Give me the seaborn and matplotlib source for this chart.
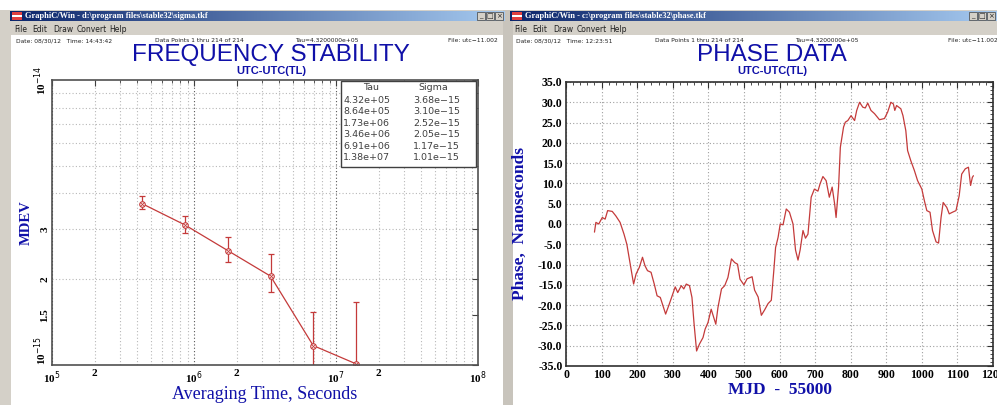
import numpy as np
import matplotlib
matplotlib.use("Agg")
import matplotlib.pyplot as plt
import seaborn as sns
import pandas as pd
from matplotlib.patches import Rectangle
from matplotlib.colors import LinearSegmentedColormap
from matplotlib.ticker import FixedLocator, NullFormatter, MultipleLocator, AutoMinorLocator, FormatStrFormatter

# ---- frequency stability (MDEV) data ----
tau = [4.32e5, 8.64e5, 1.73e6, 3.46e6, 6.91e6, 1.38e7]
sigma = [3.68e-15, 3.10e-15, 2.52e-15, 2.05e-15, 1.17e-15, 1.01e-15]
sigma_lo = [3.53e-15, 2.91e-15, 2.30e-15, 1.81e-15, 0.80e-15, 0.60e-15]
sigma_hi = [3.92e-15, 3.34e-15, 2.81e-15, 2.45e-15, 1.54e-15, 1.67e-15]
tau_txt = ["4.32e+05", "8.64e+05", "1.73e+06", "3.46e+06", "6.91e+06", "1.38e+07"]
sigma_txt = ["3.68e\u221215", "3.10e\u221215", "2.52e\u221215", "2.05e\u221215", "1.17e\u221215", "1.01e\u221215"]

# ---- phase data (MJD - 55000, ns) ----
mjd = [80, 84, 92, 102, 110, 117, 130, 140, 152, 163, 171, 178, 190, 197, 206, 215, 222, 229,
       239, 248, 256, 265, 280, 290, 300, 307, 314, 324, 331, 338, 347, 354, 360, 367, 375, 385,
       391, 399, 408, 421, 427, 437, 446, 455, 465, 474, 482, 489, 500, 509, 523, 530, 540, 549,
       558, 568, 577, 584, 589, 596, 602, 610, 619, 628, 638, 645, 652, 658, 666, 673, 680, 689,
       698, 708, 714, 722, 731, 740, 748, 755, 759, 766, 771, 780, 785, 792, 801, 811, 817, 825,
       834, 841, 848, 857, 867, 881, 895, 904, 913, 920, 924, 929, 941, 947, 955, 960, 969, 979,
       988, 1000, 1007, 1014, 1023, 1030, 1040, 1047, 1054, 1060, 1070, 1077, 1086, 1096, 1105,
       1112, 1122, 1131, 1137, 1142, 1145]
phase = [-2.0, 0.4, 0.0, 1.6, 1.2, 3.3, 3.1, 2.0, 0.4, -2.5, -5.0, -8.6, -14.8, -12.3, -10.7, -8.2,
         -10.3, -11.5, -11.9, -14.8, -17.7, -18.1, -22.2, -19.8, -17.3, -15.5, -16.9, -15.2, -16.0,
         -14.8, -15.2, -18.1, -24.7, -31.3, -29.6, -28.0, -25.9, -24.3, -21.0, -24.7, -20.6, -16.0,
         -15.2, -13.2, -8.6, -9.5, -9.9, -13.6, -15.0, -13.5, -13.0, -16.3, -18.0, -22.5, -21.2,
         -19.6, -18.8, -11.5, -5.8, -3.3, 0.0, -0.2, 3.7, 2.9, 0.0, -6.4, -8.9, -6.4, -1.6, -3.5,
         -2.5, 6.6, 8.6, 8.1, 9.9, 11.7, 10.7, 6.6, 9.1, 4.9, 1.6, 9.1, 18.9, 23.9, 25.1, 25.5,
         26.7, 25.5, 28.0, 30.0, 28.8, 28.6, 29.8, 28.0, 27.2, 25.7, 26.0, 27.6, 30.0, 29.6, 28.0,
         29.2, 28.4, 26.7, 23.0, 18.1, 15.6, 13.2, 10.7, 8.6, 5.8, 3.3, 2.9, -1.6, -4.4, -4.7, 1.6,
         5.3, 4.1, 2.5, 2.9, 3.3, 7.0, 12.3, 13.6, 14.0, 9.5, 11.5, 11.9]

W, H = 997, 405
RED = "#c43a3a"
BLUE = "#1010a8"

sns.set_style("white")
plt.rcParams["font.family"] = ["Liberation Sans", "DejaVu Sans"]

fig = plt.figure(figsize=(W / 100, H / 100), dpi=100)
fig.patch.set_facecolor("#d4d0c8")


def frect(x0, y0, x1, y1, zorder=-5, **kw):
    # rectangle in pixel coords (y from top)
    fig.patches.append(Rectangle((x0 / W, 1 - y1 / H), (x1 - x0) / W, (y1 - y0) / H,
                                 transform=fig.transFigure, figure=fig, zorder=zorder, **kw))


def ftext(x, y, s, **kw):
    fig.text(x / W, 1 - y / H, s, **kw)


# window chrome
frect(0, 0, W, 10, color="white", lw=0)
frect(11, 35, 503, H, color="white", lw=0)
frect(513, 35, W, H, color="white", lw=0)
frect(503, 10, 513, H, color="#c8c4bc", lw=0)

bar_cmap = LinearSegmentedColormap.from_list("bar", ["#0a246a", "#a6caf0"])
for x0, x1, path in [(10, 505, r"GraphiC/Win - d:\program files\stable32\sigma.tkf"),
                     (510, 997, r"GraphiC/Win - c:\program files\stable32\phase.tkf")]:
    tb = fig.add_axes([x0 / W, 1 - 21 / H, (x1 - x0) / W, 10 / H])
    tb.imshow(np.linspace(0, 1, 256)[None, :], cmap=bar_cmap, aspect="auto", extent=[0, 1, 0, 1])
    tb.set_axis_off()
    frect(x0 + 2, 12, x0 + 12, 20, zorder=3, color="#e04040", lw=0)
    frect(x0 + 2, 15, x0 + 12, 17, zorder=3, color="white", lw=0)
    ftext(x0 + 15, 16.5, path, color="white", fontsize=6, fontweight="bold",
          family="Liberation Serif", va="center")
    for i, sym in enumerate(["_", "\u25a1", "\u00d7"]):
        bx = x1 - 28 + i * 9
        frect(bx, 12, bx + 8, 20, zorder=3, facecolor="#d4d0c8", edgecolor="#404040", lw=0.5)
        ftext(bx + 4, 16, sym, fontsize=5, ha="center", va="center", family="DejaVu Sans", zorder=4)
    for dx, item in [(4, "File"), (22, "Edit"), (43, "Draw"), (67, "Convert"), (99, "Help")]:
        ftext(x0 + dx, 29, item, fontsize=5.5, va="center", family="DejaVu Sans", color="#202020")

# header lines and titles
for x0, ttl, tm, cx in [(16, "FREQUENCY STABILITY", "14:43:42", 271), (516, "PHASE DATA", "12:23:51", 772)]:
    hk = dict(fontsize=4.3, va="center", family="DejaVu Sans", color="#202020")
    ftext(x0, 41, f"Date: 08/30/12   Time: {tm}", **hk)
    ftext(x0 + 139, 41, "Data Points 1 thru 214 of 214", **hk)
    ftext(x0 + 279, 41, "Tau=4.3200000e+05", **hk)
    ftext(x0 + 432, 41, "File: utc\u221211.002", **hk)
    ftext(cx, 55, ttl, fontsize=17.5, color=BLUE, ha="center", va="center")
    ftext(cx, 71.5, "UTC-UTC(TL)", fontsize=8, fontweight="bold", color=BLUE, ha="center", va="center")

serif = ["Liberation Serif", "DejaVu Serif"]

# ---------------- left: MDEV ----------------
ax1 = fig.add_axes([52 / W, 1 - 365 / H, 426 / W, 285 / H])
ax1.set_xscale("log")
ax1.set_yscale("log")
ax1.set_xlim(1e5, 1e8)
ax1.set_ylim(1e-15, 1e-14)

for d in [1e5, 1e6, 1e7]:
    for m in range(1, 10):
        ax1.axvline(m * d, color="#555555" if m == 1 else "#b8b8b8", ls=(0, (1, 2)), lw=0.8, zorder=0)
for m in range(2, 10):
    ax1.axhline(m * 1e-15, color="#b8b8b8", ls=(0, (1, 2)), lw=0.8, zorder=0)

s = np.array(sigma)
ax1.errorbar(tau, sigma, yerr=[s - np.array(sigma_lo), np.array(sigma_hi) - s], fmt="none",
             ecolor=RED, elinewidth=0.9, capsize=2.5, capthick=0.9)
sns.lineplot(x=tau, y=sigma, ax=ax1, color=RED, lw=0.9, marker="o", markersize=4,
             markerfacecolor="white", markeredgecolor=RED, markeredgewidth=0.8)
ax1.plot(tau, sigma, ls="none", marker="x", markersize=2.5, color=RED, mew=0.6)

ax1.xaxis.set_major_locator(FixedLocator([1e5, 2e5, 1e6, 2e6, 1e7, 2e7, 1e8]))
ax1.set_xticklabels(["10$^5$", "2", "10$^6$", "2", "10$^7$", "2", "10$^8$"])
ax1.xaxis.set_minor_locator(FixedLocator([m * d for d in [1e5, 1e6, 1e7] for m in range(3, 10)]))
ax1.xaxis.set_minor_formatter(NullFormatter())
ax1.yaxis.set_major_locator(FixedLocator([1e-15, 1.5e-15, 2e-15, 3e-15, 1e-14]))
ax1.set_yticklabels(["10$^{-15}$", "1.5", "2", "3", "10$^{-14}$"], rotation=90, va="center")
ax1.get_yticklabels()[0].set_va("bottom")
ax1.yaxis.set_minor_locator(FixedLocator([m * 1e-15 for m in range(4, 10)]))
ax1.yaxis.set_minor_formatter(NullFormatter())
ax1.tick_params(which="both", direction="in", top=True, right=True, colors="#404040")
ax1.tick_params(which="major", length=4, width=0.8)
ax1.tick_params(which="minor", length=2.5, width=0.6)
ax1.tick_params(axis="x", pad=3, labelcolor="black")
ax1.tick_params(axis="y", pad=2, labelcolor="black")
for lab in ax1.get_xticklabels() + ax1.get_yticklabels():
    lab.set_family(serif)
    lab.set_fontweight("bold")
    lab.set_fontsize(8)
for sp in ax1.spines.values():
    sp.set_color("#505050")
    sp.set_linewidth(1.2)
ax1.set_xlabel("Averaging Time, Seconds", family=serif, fontsize=13, color=BLUE)
ax1.set_ylabel("MDEV", family=serif, fontsize=10.5, fontweight="bold", color=BLUE)
ax1.xaxis.set_label_coords(0.5, -0.075)
ax1.yaxis.set_label_coords(-0.045, 0.5)

# stats table
ax1.add_patch(Rectangle((0.678, 0.695), 0.317, 0.3, transform=ax1.transAxes,
                        facecolor="white", edgecolor="#404040", lw=1.0, zorder=5))
tk = dict(transform=ax1.transAxes, va="center", fontsize=6.8, color="#404040",
          family="DejaVu Sans", zorder=6)
ax1.text(0.749, 0.975, "Tau", ha="center", **tk)
ax1.text(0.894, 0.975, "Sigma", ha="center", **tk)
for i, (t, sg) in enumerate(zip(tau_txt, sigma_txt)):
    yy = 0.928 - i * 0.04
    ax1.text(0.684, yy, t, ha="left", **tk)
    ax1.text(0.848, yy, sg, ha="left", **tk)

# ---------------- right: phase ----------------
ax2 = fig.add_axes([566 / W, 1 - 366 / H, 427 / W, 284 / H])
df = pd.DataFrame({"mjd": mjd, "phase": phase})
sns.lineplot(data=df, x="mjd", y="phase", ax=ax2, color=RED, lw=0.9)
ax2.set_xlim(0, 1200)
ax2.set_ylim(-35, 35)
ax2.xaxis.set_major_locator(MultipleLocator(100))
ax2.yaxis.set_major_locator(MultipleLocator(5))
ax2.xaxis.set_minor_locator(AutoMinorLocator(5))
ax2.yaxis.set_minor_locator(AutoMinorLocator(5))
ax2.yaxis.set_major_formatter(FormatStrFormatter("%.1f"))
ax2.grid(True, which="major", color="#a0a0a0", ls=(0, (1, 2)), lw=0.8)
ax2.tick_params(which="both", direction="in", top=True, right=True, colors="#303030")
ax2.tick_params(which="major", length=4, width=0.8)
ax2.tick_params(which="minor", length=2, width=0.6)
ax2.tick_params(axis="both", pad=2.5, labelcolor="black")
for lab in ax2.get_xticklabels() + ax2.get_yticklabels():
    lab.set_family(serif)
    lab.set_fontweight("bold")
    lab.set_fontsize(8.5)
for sp in ax2.spines.values():
    sp.set_color("#303030")
    sp.set_linewidth(1.2)
ax2.set_xlabel("MJD  -  55000", family=serif, fontsize=12.5, fontweight="bold", color=BLUE)
ax2.set_ylabel("Phase,  Nanoseconds", family=serif, fontsize=12.5, fontweight="bold", color=BLUE)
ax2.xaxis.set_label_coords(0.5, -0.058)
ax2.yaxis.set_label_coords(-0.09, 0.5)

fig.savefig("out.png", dpi=100, facecolor=fig.get_facecolor())
